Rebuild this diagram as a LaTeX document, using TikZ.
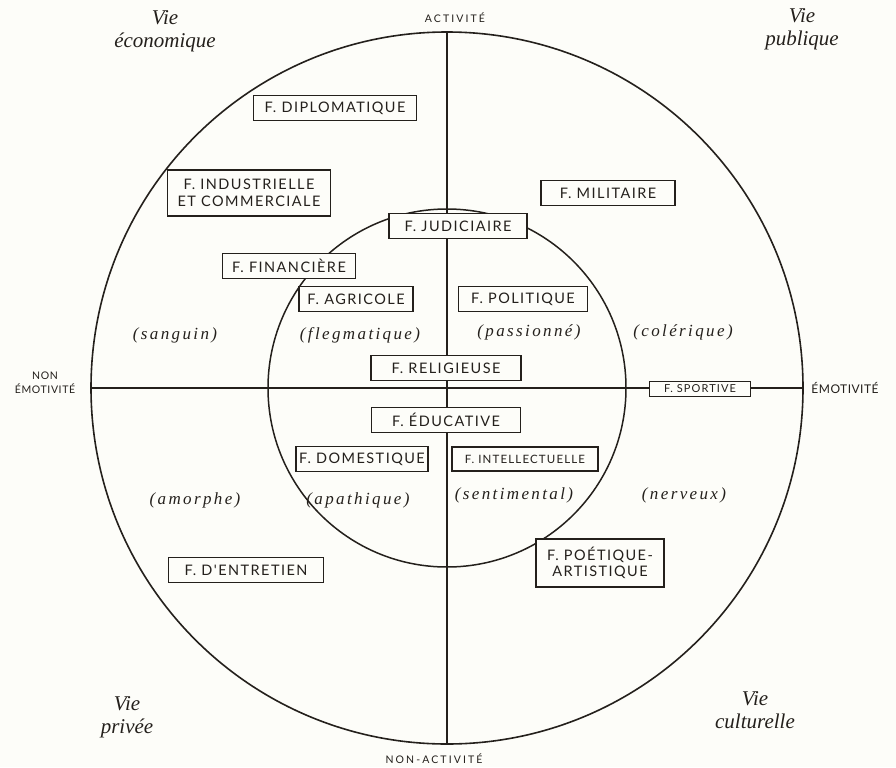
\documentclass[tikz,border=0pt]{standalone}
\usepackage{fontspec}
\setmainfont{Liberation Serif}
\newfontfamily\capsfont{Lato}[LetterSpace=10]
\newfontfamily\handfont{Liberation Serif}[LetterSpace=14]
\usetikzlibrary{positioning}
\definecolor{ink}{HTML}{24201C}
\definecolor{paper}{HTML}{FDFDF9}

\begin{document}
\begin{tikzpicture}[
    x=1pt, y=-1pt,
    fonction/.style={draw=ink, fill=paper, line width=1.2pt, inner xsep=2pt, inner ysep=2pt,
        minimum height=25pt, align=center, text=ink, font=\capsfont\fontsize{14.5}{16.5}\selectfont},
    petite/.style={font=\capsfont\fontsize{11.5}{13}\selectfont},
    humeur/.style={text=ink, font=\handfont\itshape\fontsize{17}{19}\selectfont},
    domaine/.style={text=ink, align=center, font=\itshape\fontsize{21}{23}\selectfont},
    axe/.style={text=ink, align=center, font=\capsfont\addfontfeatures{LetterSpace=20}\fontsize{10.5}{12}\selectfont}
]
    % fond et cadre
    \fill[paper] (0,0) rectangle (896,767);

    % 1. cercles et axes
    \coordinate (centre) at (447,388);
    \coordinate (haut) at (447,32);
    \coordinate (bas) at (447,744);
    \coordinate (gauche) at (91,388);
    \coordinate (droite) at (803,388);
    \draw[ink, line width=1.6pt] (centre) circle[radius=356];
    \draw[ink, line width=1.5pt] (centre) circle[radius=179];
    \draw[ink, line width=1.4pt] (haut) -- (bas);
    \draw[ink, line width=1.4pt] (gauche) -- (droite);

    % 2. axes : etiquettes
    \node[axe] (activ) at (455,18) {ACTIVITÉ};
    \node[axe] (nonactiv) at (434,759) {NON-ACTIVITÉ};
    \node[axe, font=\capsfont\addfontfeatures{LetterSpace=6}\fontsize{10.5}{14}\selectfont] (nonemot) at (45,383) {NON\\ÉMOTIVITÉ};
    \node[axe, font=\capsfont\addfontfeatures{LetterSpace=4}\fontsize{12}{14}\selectfont] (emot) at (845,388) {ÉMOTIVITÉ};

    % 3. domaines de la vie (coins)
    \node[domaine] (eco) at (165,31) {Vie\\économique};
    \node[domaine] (publ) at (802,29) {Vie\\publique};
    \node[domaine] (priv) at (127,717) {Vie\\privée};
    \node[domaine] (cult) at (755,710) {Vie\\culturelle};

    % 4. fonctions - cercle exterieur
    \node[fonction, minimum width=163pt] (diplo) at (335,108) {F. DIPLOMATIQUE};
    \node[fonction, minimum width=163pt, minimum height=46pt] (indus) at (249,193) {F. INDUSTRIELLE\\ET COMMERCIALE};
    \node[fonction, minimum width=134pt] (milit) at (608,193) {F. MILITAIRE};
    \node[fonction, minimum width=133pt] (financ) at (289,266) {F. FINANCIÈRE};
    \node[fonction, minimum width=101pt, minimum height=15pt, inner ysep=1pt,
        font=\capsfont\fontsize{11}{12}\selectfont] (sport) at (700,389) {F. SPORTIVE};
    \node[fonction, minimum width=155pt] (entret) at (246,570) {F. D'ENTRETIEN};
    \node[fonction, minimum width=128pt, minimum height=48pt] (poet) at (600,563) {F. POÉTIQUE-\\ARTISTIQUE};

    % 5. fonctions - cercle interieur
    \node[fonction, minimum width=138pt] (judic) at (458,226) {F. JUDICIAIRE};
    \node[fonction, minimum width=114pt] (agri) at (356,299) {F. AGRICOLE};
    \node[fonction, minimum width=129pt] (polit) at (523,299) {F. POLITIQUE};
    \node[fonction, minimum width=150pt] (relig) at (446,368) {F. RELIGIEUSE};
    \node[fonction, minimum width=149pt] (educ) at (446,420) {F. ÉDUCATIVE};
    \node[fonction, minimum width=132pt] (domest) at (362,459) {F. DOMESTIQUE};
    \node[fonction, petite, minimum width=146pt, minimum height=24pt] (intel) at (525,459) {F. INTELLECTUELLE};

    % 6. temperaments
    \node[humeur] (sanguin) at (175,335) {(sanguin)};
    \node[humeur] (flegm) at (360,335) {(flegmatique)};
    \node[humeur] (passion) at (529,332) {(passionné)};
    \node[humeur] (coler) at (683,332) {(colérique)};
    \node[humeur] (amorphe) at (195,500) {(amorphe)};
    \node[humeur] (apath) at (358,500) {(apathique)};
    \node[humeur] (sentim) at (514,495) {(sentimental)};
    \node[humeur] (nerveux) at (684,495) {(nerveux)};

\end{tikzpicture}
\end{document}
